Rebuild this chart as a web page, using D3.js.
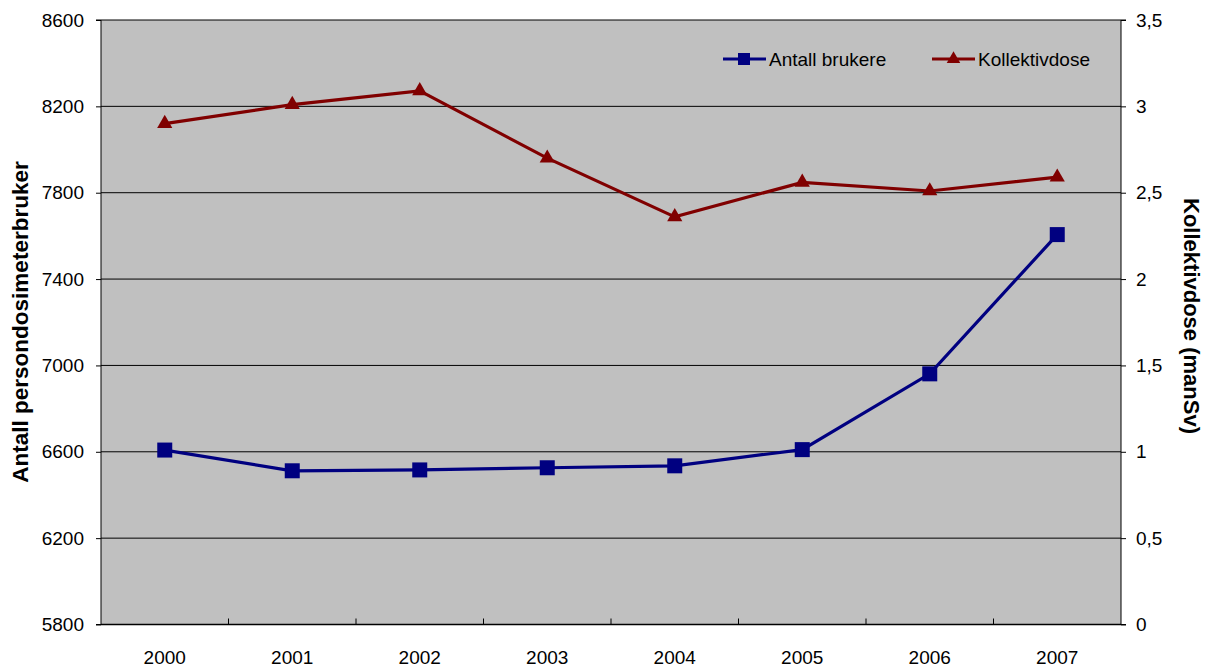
<!DOCTYPE html>
<html>
<head>
<meta charset="utf-8">
<script src="https://cdn.jsdelivr.net/npm/d3@7"></script>
<style>
  body { margin: 0; background: #fff; }
  text { font-family: "Liberation Sans", Arial, sans-serif; }
</style>
</head>
<body>
<svg id="chart" width="1208" height="666"></svg>
<script>
const years = ["2000", "2001", "2002", "2003", "2004", "2005", "2006", "2007"];
const brukere = [6608, 6512, 6516, 6526, 6535, 6610, 6961, 7606];
const kollektivdose = [2.90, 3.01, 3.09, 2.70, 2.36, 2.56, 2.51, 2.59];
const leftTicks = [5800, 6200, 6600, 7000, 7400, 7800, 8200, 8600];
const rightTicks = [0, 0.5, 1, 1.5, 2, 2.5, 3, 3.5];

const svg = d3.select("#chart");
const plot = { left: 101, right: 1121, top: 20, bottom: 624.5 };

const x = d3.scaleBand().domain(years).range([plot.left, plot.right]);
const yL = d3.scaleLinear().domain([5800, 8600]).range([plot.bottom, plot.top]);
const yR = d3.scaleLinear().domain([0, 3.5]).range([plot.bottom, plot.top]);
const fmtComma = d => String(d).replace(".", ",");

// plot background
svg.append("rect")
  .attr("x", plot.left).attr("y", plot.top)
  .attr("width", plot.right - plot.left).attr("height", plot.bottom - plot.top)
  .attr("fill", "#c0c0c0");

// horizontal gridlines
svg.append("g").selectAll("line").data(leftTicks.slice(1)).join("line")
  .attr("x1", plot.left).attr("x2", plot.right)
  .attr("y1", d => yL(d)).attr("y2", d => yL(d))
  .attr("stroke", "#000").attr("stroke-width", 1);

// left axis
const gL = svg.append("g").attr("transform", `translate(${plot.left},0)`)
  .call(d3.axisLeft(yL).tickValues(leftTicks).tickSize(5).tickPadding(12).tickFormat(d3.format("d")));
gL.selectAll("text").attr("font-size", 19).attr("fill", "#000");
gL.selectAll("line, path").attr("stroke", "#000");
gL.select(".domain").attr("d", `M-5,${plot.top}H0V${plot.bottom}H-5`);

// right axis
const gR = svg.append("g").attr("transform", `translate(${plot.right},0)`)
  .call(d3.axisRight(yR).tickValues(rightTicks).tickSize(5).tickPadding(10).tickFormat(fmtComma));
gR.selectAll("text").attr("font-size", 19).attr("fill", "#000");
gR.selectAll("line, path").attr("stroke", "#000");
gR.select(".domain").attr("d", `M5,${plot.top}H0V${plot.bottom}H5`);

// bottom axis: ticks between categories
const gB = svg.append("g").attr("transform", `translate(0,${plot.bottom})`);
gB.append("line").attr("x1", plot.left).attr("x2", plot.right)
  .attr("stroke", "#000").attr("stroke-width", 1.5);
gB.selectAll(".tk").data(years.slice(1)).join("line").attr("class", "tk")
  .attr("x1", d => x(d)).attr("x2", d => x(d)).attr("y1", 0).attr("y2", -6)
  .attr("stroke", "#000");
gB.selectAll("text").data(years).join("text")
  .attr("x", d => x(d) + x.bandwidth() / 2).attr("y", 39)
  .attr("text-anchor", "middle").attr("font-size", 19).text(d => d);

// axis titles
svg.append("text")
  .attr("transform", `translate(28,322) rotate(-90)`)
  .attr("text-anchor", "middle").attr("font-size", 22.5).attr("font-weight", "bold")
  .text("Antall persondosimeterbruker");
svg.append("text")
  .attr("transform", `translate(1184,316) rotate(90)`)
  .attr("text-anchor", "middle").attr("font-size", 22).attr("font-weight", "bold")
  .text("Kollektivdose (manSv)");

const cx = d => x(d) + x.bandwidth() / 2;
const blue = "#000080", red = "#800000";

// Antall brukere line
svg.append("path").datum(brukere)
  .attr("d", d3.line().x((d, i) => cx(years[i])).y(d => yL(d)))
  .attr("fill", "none").attr("stroke", blue).attr("stroke-width", 3.2);
svg.append("g").selectAll("rect").data(brukere).join("rect")
  .attr("x", (d, i) => cx(years[i]) - 7.5).attr("y", d => yL(d) - 7.5)
  .attr("width", 15).attr("height", 15).attr("fill", blue);

// Kollektivdose line
svg.append("path").datum(kollektivdose)
  .attr("d", d3.line().x((d, i) => cx(years[i])).y(d => yR(d)))
  .attr("fill", "none").attr("stroke", red).attr("stroke-width", 3.2);
const tri = d3.symbol().type(d3.symbolTriangle).size(100);
svg.append("g").selectAll("path").data(kollektivdose).join("path")
  .attr("transform", (d, i) => `translate(${cx(years[i])},${yR(d)})`)
  .attr("d", tri).attr("fill", red);

// legend
const legend = [
  { label: "Antall brukere", color: blue, shape: "square", x: 723 },
  { label: "Kollektivdose", color: red, shape: "triangle", x: 932 }
];
const lg = svg.append("g").selectAll("g").data(legend).join("g")
  .attr("transform", d => `translate(${d.x},59)`);
lg.append("line").attr("x1", 0).attr("x2", 43)
  .attr("stroke", d => d.color).attr("stroke-width", 3);
lg.filter(d => d.shape === "square").append("rect")
  .attr("x", 15).attr("y", -6).attr("width", 12).attr("height", 12).attr("fill", d => d.color);
lg.filter(d => d.shape === "triangle").append("path")
  .attr("transform", "translate(21.5,0)").attr("d", d3.symbol().type(d3.symbolTriangle).size(80))
  .attr("fill", d => d.color);
lg.append("text").attr("x", 46).attr("y", 7).attr("font-size", 19).text(d => d.label);
</script>
</body>
</html>
